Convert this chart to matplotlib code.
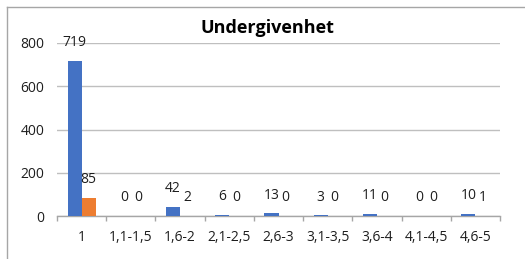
import matplotlib
matplotlib.use("Agg")
import matplotlib.pyplot as plt
from matplotlib.lines import Line2D
import numpy as np

categories = ["1", "1,1-1,5", "1,6-2", "2,1-2,5", "2,6-3", "3,1-3,5", "3,6-4", "4,1-4,5", "4,6-5"]
series_blue = [719, 0, 42, 6, 13, 3, 11, 0, 10]
series_orange = [85, 0, 2, 0, 0, 0, 0, 0, 1]
yticks = [0, 200, 400, 600, 800]
title = "Undergivenhet"

plt.rcParams['font.family'] = ['Open Sans', 'DejaVu Sans']

fig = plt.figure(figsize=(5.25, 2.59), dpi=100)
ax = fig.add_axes([57/525, (259-216)/259, (500-57)/525, (216-43)/259])

x = np.arange(len(categories))
w = 0.285
blue = "#4472C4"
orange = "#ED7D31"
txt = "#1E1E1E"
ax.bar(x - w/2, series_blue, w, color=blue, zorder=3)
ax.bar(x + w/2, series_orange, w, color=orange, zorder=3)

fs = 10
for xi, v in zip(x, series_blue):
    ax.annotate(str(v), (xi - w/2, v), xytext=(0, 13), textcoords="offset points",
                ha="center", va="center", fontsize=fs, color=txt)
for xi, v in zip(x, series_orange):
    ax.annotate(str(v), (xi + w/2, v), xytext=(0, 13), textcoords="offset points",
                ha="center", va="center", fontsize=fs, color=txt)

ax.set_xlim(-0.5, len(categories) - 0.5)
ax.set_ylim(0, 800)
ax.set_yticks(yticks)
ax.set_xticks(x)
ax.set_xticklabels(categories)
ax.set_xticks(np.arange(len(categories) + 1) - 0.5, minor=True)
ax.tick_params(axis="x", which="major", length=0, pad=10, labelsize=fs, colors=txt)
ax.tick_params(axis="x", which="minor", length=3.5, color="#A6A6A6", width=1)
ax.tick_params(axis="y", length=0, pad=9, labelsize=fs, colors=txt)
for s in ["top", "right", "left"]:
    ax.spines[s].set_visible(False)
ax.spines["bottom"].set_color("#A6A6A6")
ax.spines["bottom"].set_linewidth(1)
ax.yaxis.grid(True, color="#BFBFBF", linewidth=1, zorder=0)
ax.set_axisbelow(True)

fig.text(267/525, 1 - 33/259, title, ha="center", va="baseline", fontsize=13,
         fontweight="bold", color="black")

# chart frame
fig.add_artist(Line2D([7/525, 1], [1 - 7/259, 1 - 7/259], transform=fig.transFigure,
                      color="#A6A6A6", lw=1))
fig.add_artist(Line2D([7/525, 7/525], [0, 1 - 7/259], transform=fig.transFigure,
                      color="#A6A6A6", lw=1))

fig.savefig("out.png", dpi=100)
